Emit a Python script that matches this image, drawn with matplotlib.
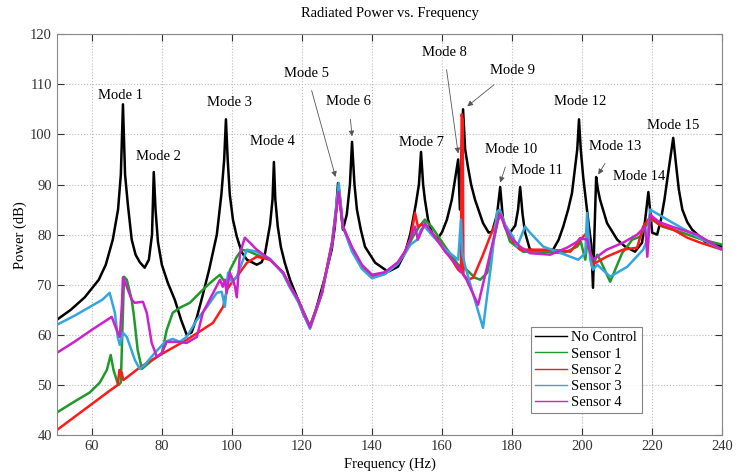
# Radiated power vs frequency, uncontrolled and with 4 sensor configurations
import matplotlib.pyplot as plt

plt.rcParams['font.family'] = ['Liberation Serif', 'DejaVu Serif']

# No Control
f_nc = [50, 54, 58, 62, 64, 66, 67.5, 68.3, 68.9, 69.5, 70.3, 71.4, 72.5, 73.7, 75.1, 76.3, 77.2, 77.7,
        78.2, 78.9, 80, 81.7, 83.7, 85.5, 87.1, 88.5, 90, 91.7, 93.5, 95.7, 97.0, 97.8, 98.3, 98.8, 99.4,
        100.3, 101.4, 102.8, 104.3, 107.1, 108.5, 109.4, 110.9, 111.6, 112, 112.4, 113.1, 114, 115.1,
        116.6, 118.9, 120.5, 122.3, 124, 126.6, 128.5, 129.4, 130.3, 130.8, 131.7, 132.8, 133.7, 134.3,
        135.0, 135.7, 136.8, 138, 140.9, 144.6, 147.4, 149.4, 150.9, 152.5, 153.4, 154, 154.6, 155.1,
        156, 157.1, 158.6, 160, 161.4, 162.8, 163.7, 164.6, 165.1, 165.5, 166, 166.6, 167.4, 168.3,
        169.4, 171.7, 173.3, 174.3, 175.7, 176.6, 177.4, 178.3, 179.4, 180.9, 181.7, 182.3, 183, 183.7,
        185.1, 188.9, 191.7, 193.3, 194.6, 196, 197.1, 198.6, 199.1, 199.6, 200.3, 201.7, 202.6, 203.1,
        203.5, 204, 204.5, 205.1, 207.1, 210, 212.3, 215.1, 217.1, 218, 218.9, 219.5, 220, 221.4, 222.5,
        223.5, 224.6, 226, 226.8, 227.6, 228.6, 230, 231.4, 235.1, 240]
p_nc = [63, 65, 67.5, 71, 74, 79, 85, 92, 106, 92, 86, 79, 76, 74.5, 73.4, 75, 80, 92.5,
        85, 78.5, 74, 70.4, 67, 63, 60, 60.5, 63.5, 68, 73, 80, 88, 95, 103, 95, 88,
        83, 79.6, 76.5, 75, 74, 74.5, 76, 82, 87, 94.5, 87, 81.6, 77.5, 74.4,
        71, 67, 64, 61.6, 65, 71.6, 77, 81.6, 90.3, 87, 81, 84, 90, 98.5,
        90, 85, 81, 77.6, 74.4, 72.6, 73.6, 76.3, 80, 86, 90, 96.5, 90, 87,
        83, 80.4, 79, 80.5, 83, 87, 91, 95, 85, 95, 105, 97, 93.5, 90,
        87, 82.3, 80.4, 80.6, 84, 89.5, 83, 81, 80.4, 81.8, 85, 89.5, 84, 80.4,
        77, 76.6, 77, 79, 81.6, 85, 88.3, 97, 103, 97, 91.5, 83, 78, 69.4,
        80, 91.5, 89, 87, 82.3, 79, 77.6, 76.6, 78.4, 83, 88.5, 84, 80.4, 80, 83,
        87, 92.5, 99.3, 94, 89, 85, 82.5, 81, 78.6, 77.6]

# Sensor 1
f_s1 = [50, 54.6, 59.4, 62.3, 64.3, 65.4, 66.2, 67.1, 67.6, 68.3, 68.7, 69.2, 70, 71.4, 72, 73.1, 74.3,
        77, 80, 81.4, 83.1, 85.1, 88, 91.7, 94, 96.6, 97.5, 98.6, 99.5, 101.4, 102.9, 105.1, 107,
        110.9, 114.6, 116.6, 118.9, 122.3, 125.7, 128.6, 130.5, 131.7, 134.3, 137.1, 140, 143.7, 147.4,
        149.4, 151.7, 153.4, 155.1, 157, 161, 164.6, 167, 169.4, 170.9, 172.9, 174.5, 176, 177, 179.4,
        183.1, 188.9, 194.6, 198.6, 199.6, 200.9, 201.7, 202.9, 204.3, 205.1, 208, 211.4, 214.3, 216.6,
        218, 220, 222.9, 228.6, 234.3, 240]
p_s1 = [44.5, 46.5, 48.5, 50.5, 53, 56, 53, 51, 50, 50.5, 60, 71.6, 71, 67, 64, 57, 53.2,
        54.8, 56.3, 61, 64.4, 65.4, 66.4, 69, 70.5, 72, 71, 70.6, 73, 75.6, 77, 76.6, 76,
        75, 72.4, 69.8, 67, 61.8, 68.4, 78.4, 89, 81.6, 77.3, 73.8, 71.8, 72.3, 74.4,
        76.4, 79.6, 81.5, 83, 81.6, 77.5, 74, 73, 71.4, 71, 72.4, 78, 83, 83.8, 78.6,
        76.6, 76.6, 76.3, 77.6, 78.6, 75, 79.6, 73.4, 76, 75, 70.6, 76.3, 79, 79.6,
        81.6, 83, 81.6, 80.4, 79, 78]

# Sensor 2
f_s2 = [50, 55, 60, 65, 67.4, 67.9, 68.5, 69, 70, 73.7, 80, 87.1, 94.6, 97.5, 98.6, 100, 101.4, 104.3,
        107.1, 110.9, 114.6, 116.6, 118.9, 122.3, 125.7, 128.6, 130.6, 131.7, 134.3, 137.1, 140, 143.7,
        147.4, 149.4, 150.9, 152.3, 153.1, 154, 155.1, 158, 161, 164.6, 165.4, 165.6, 165.9, 166.1,
        167.4, 168.9, 171.7, 173.7, 175.7, 176.6, 178, 180.3, 182.3, 184.3, 190.9, 196.6, 200.3, 201.4,
        202.3, 202.9, 207, 211.7, 215.7, 217.4, 219.4, 222, 226, 230, 233.7, 240]
p_s2 = [41, 43.6, 46.2, 48.8, 50, 53, 52.5, 51, 51.5, 53.5, 56.2, 59, 62.4, 65.6, 69, 70.5, 71.6, 74.4,
        75.6, 75, 72.4, 69.6, 67, 61.4, 68.4, 78.4, 89, 81.6, 77, 73.6, 71.6, 72.2,
        74.4, 76.6, 79, 84.3, 81.6, 82, 81.6, 79.6, 77, 73, 72.5, 104, 103, 72,
        71, 71.4, 76, 79.6, 83, 84.5, 81.5, 78.6, 77, 77, 77, 76.6, 79.6, 80.4,
        76.3, 74, 75.6, 77, 77.4, 81.6, 83.5, 82, 81, 79.4, 78.4, 77]

# Sensor 3
f_s3 = [50, 55, 60, 63, 65.1, 66.6, 67.4, 68, 68.9, 70, 72.3, 73.7, 75.1, 78, 80.9, 83.1, 85.1, 87.1,
        90, 92.9, 95.7, 97.1, 98, 98.9, 100, 101.4, 102.9, 104.3, 107.1, 110.9, 114.6, 116.6, 118.9,
        122.3, 125.7, 128.6, 130.5, 131.7, 134.3, 137.1, 140, 143.7, 147.4, 149.4, 151, 152.9, 154,
        155.1, 157, 161, 164.6, 165.4, 165.8, 166.5, 168.5, 171.7, 174, 175.7, 176.5, 178, 180.3,
        181.4, 183.7, 185.1, 188.9, 192.9, 196.6, 198.9, 200.9, 201.4, 202.3, 203.1, 204.3, 208,
        212.9, 217.4, 218.6, 219.4, 226, 232.9, 240]
p_s3 = [62, 63.8, 65.8, 67, 68.4, 64.4, 59.6, 58, 60.4, 59.6, 55, 53.2, 54, 56.4, 58.6, 59.2, 58.6, 59.6,
        63, 65.6, 68.4, 68.6, 65.6, 72.4, 70.6, 71.6, 74.4, 77, 76.6, 75.2, 72.2, 69.4, 66.6,
        61.2, 68.2, 78.2, 90.3, 81.6, 76.6, 73.2, 71.3, 72.1, 74.2, 76.2, 78, 79, 81,
        81.6, 80, 77, 75, 83, 76.3, 74, 69, 61.4, 74, 84.6, 85, 82, 79.5,
        77.6, 81.6, 80.4, 77.6, 76.6, 75.6, 75, 76.3, 84.3, 75, 73, 74, 71.6,
        73.6, 77, 79, 85, 82.3, 79.6, 77]

# Sensor 4
f_s4 = [50, 55, 60, 65.7, 67.1, 68, 68.6, 68.9, 70, 71.4, 72.3, 74.6, 75.7, 77.1, 78.6, 80, 81.4, 84.3,
        87.1, 90, 91.7, 94, 96.6, 97.4, 98, 98.5, 99.4, 100.3, 100.9, 101.4, 102.3, 103.7, 107.1,
        110.9, 114.6, 116.6, 118.9, 122.3, 125.7, 128.6, 130.5, 131.7, 134.3, 137.1, 140, 143.7, 147.4,
        149.4, 150.9, 152.3, 153.1, 155.1, 157, 161, 164.6, 167, 170.3, 173, 176, 176.7, 178, 179.4,
        182.3, 185.1, 190.9, 195.7, 198.6, 199.4, 201.4, 202.3, 203.1, 207, 211.7, 215.7, 218, 218.6,
        219.4, 222, 226, 232.9, 240]
p_s4 = [56.4, 58.6, 61, 63.6, 61, 59.6, 66, 71.5, 69.6, 67, 66.4, 66.6, 64.4, 58.4, 55.6, 56.4, 58.6, 58.6,
        58.4, 59.6, 64.4, 67.5, 71, 69.6, 71, 68.4, 72.4, 71, 69.6, 67.5, 76.3, 79.4, 77,
        75, 72.5, 69.7, 67, 61.5, 68.3, 78.3, 88.5, 81.6, 77.5, 74, 72, 72.5, 74.5,
        76.6, 79, 81.6, 79, 82.3, 80.5, 76.5, 73.6, 71, 66, 74, 83, 84, 81.5, 79.6,
        77.6, 76.3, 76, 77.4, 78.6, 79.3, 79, 76.3, 75, 77, 78.4, 80, 81.6, 75.6,
        84, 82.5, 81.5, 80, 77]

# mode labels: (text, text position, arrow target or None)
modes = [
    ("Mode 1", (68.3, 107.8), None),
    ("Mode 2", (79.0, 95.5), None),
    ("Mode 3", (99.4, 106.3), None),
    ("Mode 4", (111.7, 98.5), None),
    ("Mode 5", (121.4, 112.2), (129.6, 91.5)),
    ("Mode 6", (133.4, 106.5), (134.3, 99.6)),
    ("Mode 7", (154.0, 98.3), None),
    ("Mode 8", (160.6, 116.4), (164.6, 96.2)),
    ("Mode 9", (180.0, 112.8), (167.2, 105.6)),
    ("Mode 10", (179.7, 96.9), (176.6, 90.4)),
    ("Mode 11", (187.0, 92.7), None),
    ("Mode 12", (199.4, 106.5), None),
    ("Mode 13", (209.4, 97.5), (204.6, 92.0)),
    ("Mode 14", (216.3, 91.5), None),
    ("Mode 15", (226.0, 101.7), None),
]

fig = plt.figure(figsize=(7.37, 4.74), dpi=100)
ax = fig.add_axes([0.077, 0.082, 0.903, 0.846])

ax.plot(f_nc, p_nc, color='black', lw=1.8, label='No Control')
ax.plot(f_s1, p_s1, color='#1f9a2a', lw=1.8, label='Sensor 1')
ax.plot(f_s2, p_s2, color='#ff1a1a', lw=1.8, label='Sensor 2')
ax.plot(f_s3, p_s3, color='#33a6e0', lw=1.8, label='Sensor 3')
ax.plot(f_s4, p_s4, color='#cc22cc', lw=1.8, label='Sensor 4')

for name, pos, target in modes:
    if target is None:
        ax.text(pos[0], pos[1], name, ha='center', va='center', fontsize=10.5)
    else:
        ax.annotate(name, xy=target, xytext=pos, ha='center', va='center', fontsize=10.5,
                    arrowprops=dict(arrowstyle='-|>', color='#555555', lw=0.6,
                                    mutation_scale=8, shrinkA=6, shrinkB=0))

ax.set_xlim(50, 240)
ax.set_ylim(40, 120)
ax.set_xticks(range(60, 241, 20))
ax.set_yticks(range(40, 121, 10))
ax.tick_params(direction='in', top=True, right=True, labelsize=10.5, colors='#333333', length=5)
for s in ax.spines.values():
    s.set_color('#888888')
ax.grid(True, linestyle=':', color='#bbbbbb', lw=0.8)

ax.set_title('Radiated Power vs. Frequency', fontsize=10.5, pad=12)
ax.set_xlabel('Frequency (Hz)', fontsize=10.5, labelpad=3.5)
ax.set_ylabel('Power (dB)', fontsize=10.5, labelpad=2)

leg = ax.legend(loc='upper left', bbox_to_anchor=(0.712, 0.27), fontsize=10.5, fancybox=False,
                handlelength=2.2, borderpad=0.3, labelspacing=0.2, handletextpad=0.3,
                borderaxespad=0)
leg.get_frame().set_edgecolor('#666666')
leg.get_frame().set_linewidth(0.8)
for line in leg.get_lines():
    line.set_linewidth(1.0)

plt.savefig('out.png', dpi=100)
